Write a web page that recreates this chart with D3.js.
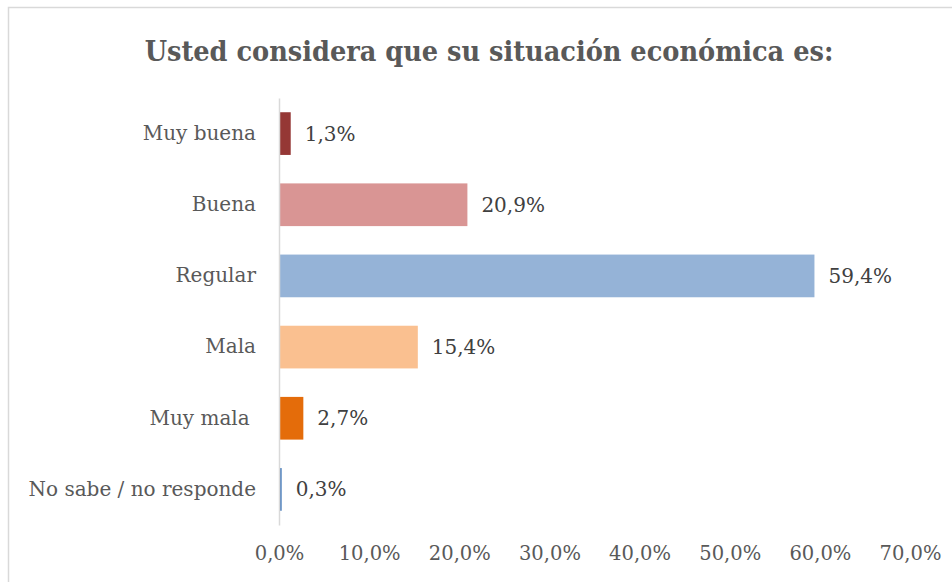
<!DOCTYPE html>
<html lang="es">
<head>
  <meta charset="UTF-8">
  <title>Situación económica</title>
  <style>
    body { margin: 0; background: #fff; }
    svg text { font-family: "DejaVu Serif", serif; }
  </style>
</head>
<body>
  <div id="chart"></div>
  <script src="https://cdn.jsdelivr.net/npm/d3@7"></script>
  <script>
    // data
    const categories = ["Muy buena", "Buena", "Regular", "Mala", "Muy mala ", "No sabe / no responde"];
    const values = [1.3, 20.9, 59.4, 15.4, 2.7, 0.3];
    const barColors = ["#953735", "#D99594", "#95B3D7", "#FAC090", "#E46C0A", "#4F81BD"];
    const xTicks = [0, 10, 20, 30, 40, 50, 60, 70];

    const W = 952, H = 582;
    const margin = { top: 98, left: 279, right: 42, bottom: 57 };

    const svg = d3.select("#chart").append("svg")
      .attr("width", W)
      .attr("height", H);

    // chart frame (runs off the right and bottom)
    svg.append("path")
      .attr("d", `M8.5,${H + 2} L8.5,7.5 L${W + 2},7.5`)
      .attr("fill", "none")
      .attr("stroke", "#d9d9d9")
      .attr("stroke-width", 1.5);

    svg.append("text")
      .attr("x", 489)
      .attr("y", 61)
      .attr("text-anchor", "middle")
      .attr("fill", "#595959")
      .style("font-family", "'DejaVu Serif Condensed', 'DejaVu Serif', serif")
      .style("font-weight", "bold")
      .style("font-size", "28.5px")
      .text("Usted considera que su situación económica es:");

    const x = d3.scaleLinear()
      .domain([0, 70])
      .range([margin.left, 910]);

    const y = d3.scaleBand()
      .domain(categories)
      .range([margin.top, H - margin.bottom])
      .paddingInner(0.4)
      .paddingOuter(0.2);

    const data = categories.map((c, i) => ({ cat: c, value: values[i], color: barColors[i] }));

    // bars
    svg.selectAll(".bar")
      .data(data)
      .enter().append("rect")
      .attr("class", "bar")
      .attr("x", x(0))
      .attr("y", d => y(d.cat))
      .attr("width", d => x(d.value) - x(0))
      .attr("height", y.bandwidth())
      .attr("fill", d => d.color);

    // value labels
    svg.selectAll(".val")
      .data(data)
      .enter().append("text")
      .attr("class", "val")
      .attr("x", d => x(d.value) + 14)
      .attr("y", d => y(d.cat) + y.bandwidth() / 2)
      .attr("dy", "0.35em")
      .attr("fill", "#404040")
      .style("font-size", "20px")
      .text(d => d3.format(".1f")(d.value).replace(".", ",") + "%");

    // category axis
    const yAxis = svg.append("g")
      .attr("transform", `translate(${x(0)},0)`)
      .call(d3.axisLeft(y).tickSize(0).tickPadding(23));
    yAxis.select(".domain").attr("stroke", "#d9d9d9").attr("stroke-width", 1.5);
    yAxis.selectAll("text")
      .attr("fill", "#595959")
      .style("font-size", "20px")
      .style("white-space", "pre");

    // value axis (labels only)
    const xAxis = svg.append("g")
      .attr("transform", `translate(0,${H - 39})`)
      .call(d3.axisBottom(x).tickValues(xTicks).tickSize(0)
        .tickFormat(d => d3.format(".1f")(d).replace(".", ",") + "%"));
    xAxis.select(".domain").remove();
    xAxis.selectAll("text")
      .attr("fill", "#595959")
      .style("font-size", "19.5px");
  </script>
</body>
</html>
